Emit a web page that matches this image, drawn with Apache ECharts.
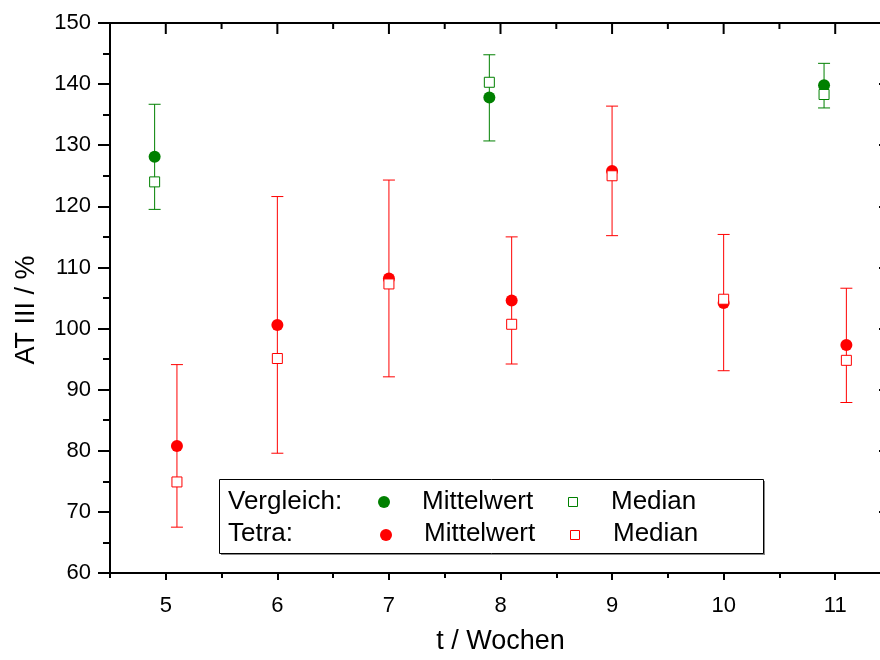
<!DOCTYPE html>
<html>
<head>
<meta charset="utf-8">
<script src="https://cdn.jsdelivr.net/npm/echarts@6/dist/echarts.min.js"></script>
<style>
  body { margin: 0; overflow: hidden; background: #fff; }
  #main { width: 900px; height: 660px; }
</style>
</head>
<body>
<div id="main"></div>
<script>
// Vergleich (Kontrollgruppe), leicht nach links versetzt
const vergleichX = [4.9, 7.9, 10.9]
const vergleichMean = [128.1, 137.8, 139.8]
const vergleichMedian = [124.0, 140.3, 138.3]
const vergleichLow = [119.5, 130.7, 136.1]
const vergleichHigh = [136.7, 144.8, 143.4]

// Tetra
const tetraX = [5.1, 6, 7, 8.1, 9, 10, 11.1]
const tetraMean = [80.8, 100.6, 108.2, 104.6, 125.8, 104.2, 97.3]
const tetraMedian = [74.9, 95.1, 107.3, 100.7, 125.0, 104.8, 94.8]
const tetraLow = [67.5, 79.6, 92.1, 94.2, 115.2, 93.1, 87.9]
const tetraHigh = [94.1, 121.6, 124.3, 115.0, 136.4, 115.4, 106.6]

// Achsenbeschriftung
const xMajorTicks = [5, 6, 7, 8, 9, 10, 11]
const xMinorTicks = [4.5, 5.5, 6.5, 7.5, 8.5, 9.5, 10.5, 11.5]

const FONT = 'Liberation Sans, Arial, sans-serif'
const GREEN = '#008000'
const RED = '#ff0000'
const Y_MIN = 60
const Y_MAX = 150

const chart = echarts.init(document.getElementById('main'))

// Fehlerbalken als custom series
function errorBar (color) {
  return function (params, api) {
    const x = api.value(0)
    const lo = api.coord([x, api.value(1)])
    const hi = api.coord([x, api.value(2)])
    const half = 6
    const style = { stroke: color, lineWidth: 1 }
    return {
      type: 'group',
      children: [
        { type: 'line', shape: { x1: lo[0], y1: lo[1], x2: hi[0], y2: hi[1] }, style: style },
        { type: 'line', shape: { x1: lo[0] - half, y1: lo[1], x2: lo[0] + half, y2: lo[1] }, style: style },
        { type: 'line', shape: { x1: hi[0] - half, y1: hi[1], x2: hi[0] + half, y2: hi[1] }, style: style }
      ]
    }
  }
}

const zip = (xs, ys) => xs.map((x, i) => [x, ys[i]])
const zip3 = (xs, a, b) => xs.map((x, i) => [x, a[i], b[i]])

const axisLine = () => ({ show: true, onZero: false, lineStyle: { color: '#000', width: 2 } })
const tickStyle = () => ({ color: '#000', width: 2 })
const noText = { show: true, formatter: () => '', fontSize: 1 }

const option = {
  animation: false,
  backgroundColor: '#fff',
  grid: { left: 110, right: 9, top: 23, bottom: 83 },
  xAxis: [
    {
      type: 'value',
      min: 4.5,
      max: 11.5,
      position: 'bottom',
      splitLine: { show: false },
      name: 't / Wochen',
      nameLocation: 'middle',
      nameGap: 55,
      nameTextStyle: { fontFamily: FONT, fontSize: 27, color: '#000' },
      axisLine: axisLine(),
      axisTick: { show: true, customValues: xMajorTicks, length: 7, lineStyle: tickStyle() },
      axisLabel: { customValues: xMajorTicks, margin: 22, fontFamily: FONT, fontSize: 22, color: '#000' }
    },
    {
      type: 'value',
      min: 4.5,
      max: 11.5,
      position: 'bottom',
      splitLine: { show: false },
      axisLine: { show: false, onZero: false },
      axisTick: { show: true, customValues: xMinorTicks, length: 5, lineStyle: tickStyle() },
      axisLabel: Object.assign({ customValues: xMinorTicks }, noText)
    },
    {
      type: 'value',
      min: 4.5,
      max: 11.5,
      position: 'top',
      splitLine: { show: false },
      axisLine: axisLine(),
      axisTick: { show: false },
      axisLabel: { show: false }
    }
  ],
  yAxis: [
    {
      type: 'value',
      position: 'left',
      min: Y_MIN,
      max: Y_MAX,
      interval: 10,
      name: 'AT III / %',
      nameLocation: 'middle',
      nameGap: 70,
      nameTextStyle: { fontFamily: FONT, fontSize: 27, color: '#000', padding: [0, 24, 0, 0] },
      splitLine: { show: false },
      axisLine: axisLine(),
      axisTick: { show: true, length: 12, lineStyle: tickStyle() },
      minorTick: { show: true, splitNumber: 2, length: 7, lineStyle: tickStyle() },
      axisLabel: { margin: 19, fontFamily: FONT, fontSize: 22, color: '#000' }
    },
    {
      type: 'value',
      position: 'right',
      min: Y_MIN,
      max: Y_MAX,
      interval: 10,
      splitLine: { show: false },
      axisLine: axisLine(),
      axisTick: { show: true, inside: true, length: 12, lineStyle: tickStyle() },
      minorTick: { show: true, splitNumber: 2, length: 6, lineStyle: tickStyle() },
      axisLabel: { show: false }
    }
  ],
  series: [
    {
      type: 'custom',
      name: 'Vergleich SD',
      renderItem: errorBar(GREEN),
      data: zip3(vergleichX, vergleichLow, vergleichHigh),
      z: 1
    },
    {
      type: 'custom',
      name: 'Tetra SD',
      renderItem: errorBar(RED),
      data: zip3(tetraX, tetraLow, tetraHigh),
      z: 1
    },
    {
      type: 'scatter',
      name: 'Vergleich Mittelwert',
      symbol: 'circle',
      symbolSize: 12,
      itemStyle: { color: GREEN, opacity: 1 },
      data: zip(vergleichX, vergleichMean),
      z: 2
    },
    {
      type: 'scatter',
      name: 'Tetra Mittelwert',
      symbol: 'circle',
      symbolSize: 12,
      itemStyle: { color: RED, opacity: 1 },
      data: zip(tetraX, tetraMean),
      z: 2
    },
    {
      type: 'scatter',
      name: 'Vergleich Median',
      symbol: 'rect',
      symbolSize: 10,
      itemStyle: { color: '#fff', borderColor: GREEN, borderWidth: 1, opacity: 1 },
      data: zip(vergleichX, vergleichMedian),
      z: 3
    },
    {
      type: 'scatter',
      name: 'Tetra Median',
      symbol: 'rect',
      symbolSize: 10,
      itemStyle: { color: '#fff', borderColor: RED, borderWidth: 1, opacity: 1 },
      data: zip(tetraX, tetraMedian),
      z: 3
    }
  ],
  // Legende als Kasten im Diagramm
  graphic: [
    { id: 'lg-shadow', type: 'rect', left: 221, top: 481, shape: { width: 544, height: 74 }, style: { fill: '#888' }, z: 10 },
    { id: 'lg-box', type: 'rect', left: 219, top: 479, shape: { width: 544, height: 74 }, style: { fill: '#fff', stroke: '#000', lineWidth: 1 }, z: 11 },
    { id: 'lg-t1', type: 'text', left: 228, top: 489, style: { text: 'Vergleich:', font: '26px ' + FONT, fill: '#000' }, z: 12 },
    { id: 'lg-t2', type: 'text', left: 228, top: 521, style: { text: 'Tetra:', font: '26px ' + FONT, fill: '#000' }, z: 12 },
    { id: 'lg-c1', type: 'circle', shape: { cx: 384, cy: 502, r: 6 }, style: { fill: GREEN }, z: 12 },
    { id: 'lg-c2', type: 'circle', shape: { cx: 386, cy: 535, r: 6 }, style: { fill: RED }, z: 12 },
    { id: 'lg-m1', type: 'text', left: 422, top: 489, style: { text: 'Mittelwert', font: '26px ' + FONT, fill: '#000' }, z: 12 },
    { id: 'lg-m2', type: 'text', left: 424, top: 521, style: { text: 'Mittelwert', font: '26px ' + FONT, fill: '#000' }, z: 12 },
    { id: 'lg-s1', type: 'rect', shape: { x: 568.5, y: 497.5, width: 9, height: 9 }, style: { fill: '#fff', stroke: GREEN, lineWidth: 1 }, z: 12 },
    { id: 'lg-s2', type: 'rect', shape: { x: 570.5, y: 530.5, width: 9, height: 9 }, style: { fill: '#fff', stroke: RED, lineWidth: 1 }, z: 12 },
    { id: 'lg-d1', type: 'text', left: 611, top: 489, style: { text: 'Median', font: '26px ' + FONT, fill: '#000' }, z: 12 },
    { id: 'lg-d2', type: 'text', left: 613, top: 521, style: { text: 'Median', font: '26px ' + FONT, fill: '#000' }, z: 12 }
  ]
}

chart.setOption(option)

// Teilstriche der oberen Achse nach innen, Position über die Achsen-Skala
const topTicks = xMajorTicks.concat(xMinorTicks).map(function (v, i) {
  const p = chart.convertToPixel({ xAxisIndex: 0, yAxisIndex: 0 }, [v, Y_MAX])
  const len = Number.isInteger(v) ? 11 : 6
  return {
    id: 'tt' + i,
    type: 'line',
    shape: { x1: p[0], y1: p[1], x2: p[0], y2: p[1] + len },
    style: { stroke: '#000', lineWidth: 2 },
    z: 20
  }
})
chart.setOption({ graphic: topTicks })
</script>
</body>
</html>
